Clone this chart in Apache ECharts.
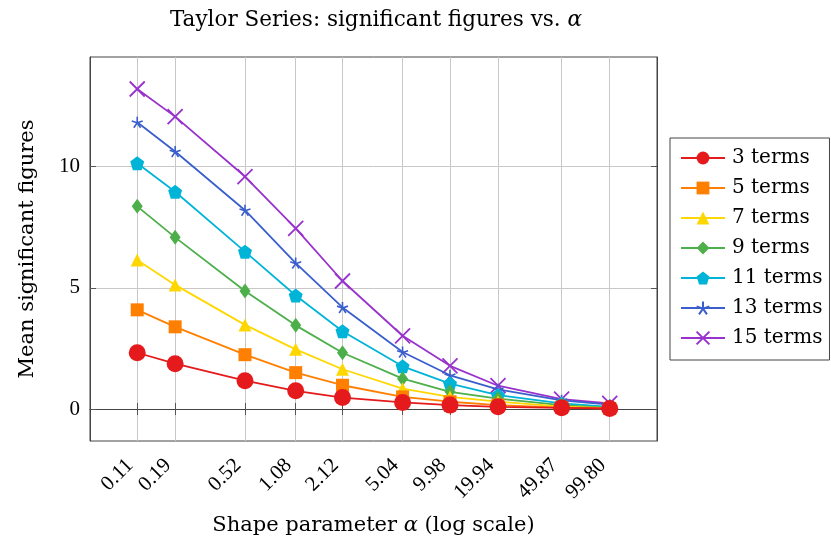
<!DOCTYPE html>
<html>
<head>
<meta charset="utf-8">
<script src="https://cdn.jsdelivr.net/npm/echarts@6/dist/echarts.min.js"></script>
<style>html,body{margin:0;padding:0;background:#fff}#c{width:831px;height:544px}</style>
</head>
<body>
<div id="c"></div>
<script>
const alphaValues = [0.11, 0.19, 0.52, 1.08, 2.12, 5.04, 9.98, 19.94, 49.87, 99.80];
const xTickLabels = ['0.11', '0.19', '0.52', '1.08', '2.12', '5.04', '9.98', '19.94', '49.87', '99.80'];
const yTicks = [0, 5, 10];
const seriesNames = ['3 terms', '5 terms', '7 terms', '9 terms', '11 terms', '13 terms', '15 terms'];
const terms3  = [2.32, 1.87, 1.17, 0.75, 0.47, 0.27, 0.16, 0.09, 0.05, 0.02];
const terms5  = [4.09, 3.39, 2.24, 1.50, 0.98, 0.50, 0.30, 0.16, 0.06, 0.02];
const terms7  = [6.15, 5.12, 3.47, 2.46, 1.64, 0.84, 0.50, 0.30, 0.10, 0.03];
const terms9  = [8.36, 7.08, 4.87, 3.45, 2.32, 1.25, 0.71, 0.43, 0.16, 0.05];
const terms11 = [10.14, 8.96, 6.49, 4.68, 3.21, 1.76, 1.05, 0.57, 0.23, 0.09];
const terms13 = [11.83, 10.62, 8.20, 6.02, 4.19, 2.35, 1.39, 0.81, 0.36, 0.18];
const terms15 = [13.20, 12.06, 9.59, 7.45, 5.28, 3.02, 1.78, 0.96, 0.41, 0.23];
const allSeries = [terms3, terms5, terms7, terms9, terms11, terms13, terms15];

const colors = ['#e41a1c', '#ff7f00', '#ffd700', '#4daf4a', '#00b4d8', '#3a5fcd', '#9932cc'];
const starPath = 'path://M5,5L5,0M5,5L0.245,3.455M5,5L2.061,9.045M5,5L7.939,9.045M5,5L9.755,3.455';
const crossPath = 'path://M0,0L10,10M10,0L0,10';
const symbols = ['circle', 'rect', 'triangle', 'diamond', 'path://M5,0L9.755,3.455L7.939,9.045L2.061,9.045L0.245,3.455Z', starPath, crossPath];
const sizes = [17, 13, 13, [11, 15], 14, 11, 15];

const FONT = '"DejaVu Serif", "Liberation Serif", serif';
const NUMFONT = '"Liberation Serif", "DejaVu Serif", serif';
const xMin = 0.0557, xMax = 197.2, yMin = -1.32, yMax = 14.52;

const series = allSeries.map((vals, i) => {
  const stroke = (i >= 5);
  return {
    name: seriesNames[i],
    type: 'line',
    xAxisIndex: 0, yAxisIndex: 0,
    data: vals.map((v, j) => [alphaValues[j], v]),
    symbol: symbols[i],
    symbolSize: sizes[i],
    lineStyle: { color: colors[i], width: 1.8 },
    itemStyle: stroke ? { color: 'rgba(0,0,0,0)', borderColor: colors[i], borderWidth: i === 6 ? 1.8 : 1.6 }
                      : { color: colors[i], borderWidth: 0 },
    color: colors[i],
    z: 2 + (6 - i),
    animation: false
  };
});

const chart = echarts.init(document.getElementById('c'), null, { renderer: 'canvas' });
const tickStyle = { show: true, inside: true, length: 6, lineStyle: { color: '#555', width: 1 } };
chart.setOption({
  animation: false,
  title: {
    text: '{n|Taylor Series: significant figures vs. }{a|α}',
    left: 371, top: 4, textAlign: 'center',
    textStyle: { fontWeight: 'normal', rich: {
      n: { fontFamily: FONT, fontSize: 21.5, fontWeight: 'normal', color: '#000' },
      a: { fontFamily: FONT, fontSize: 21.5, fontWeight: 'normal', fontStyle: 'italic', color: '#000' }
    } }
  },
  grid: { left: 90, right: 174, top: 57, bottom: 103, show: true, borderColor: '#444', borderWidth: 1, backgroundColor: 'transparent', containLabel: false },
  legend: {
    orient: 'vertical', left: 670, top: 138,
    itemWidth: 44, itemHeight: 16, itemGap: 10,
    padding: [10, 7, 12, 10],
    borderColor: '#444', borderWidth: 1,
    textStyle: { fontFamily: FONT, fontSize: 20, color: '#000', padding: [0, 0, 0, 2] },
    data: seriesNames
  },
  xAxis: [{
    type: 'log', min: xMin, max: xMax, logBase: 10,
    name: '{n|Shape parameter }{a|α}{n| (log scale)}',
    nameLocation: 'middle', nameGap: 74,
    nameTextStyle: { rich: {
      n: { fontFamily: FONT, fontSize: 21, color: '#000' },
      a: { fontFamily: FONT, fontSize: 21, fontStyle: 'italic', color: '#000' }
    } },
    axisLine: { show: true, lineStyle: { color: '#444' } },
    axisTick: Object.assign({ customValues: alphaValues }, tickStyle),
    splitLine: { show: true, lineStyle: { color: '#c8c8c8', width: 1 } },
    minorTick: { show: false }, minorSplitLine: { show: false },
    axisLabel: {
      customValues: alphaValues,
      rotate: 45, margin: 14,
      padding: [0, 10, 15, 0],
      fontFamily: NUMFONT, fontSize: 21, color: '#000',
      formatter: v => { const k = alphaValues.findIndex(a => Math.abs(a - v) < 1e-6 * Math.max(1, a)); return k >= 0 ? xTickLabels[k] : ''; }
    }
  }, {
    type: 'log', min: xMin, max: xMax, logBase: 10, position: 'top',
    axisLine: { show: true, lineStyle: { color: '#444' } },
    axisTick: Object.assign({ customValues: alphaValues }, tickStyle),
    axisLabel: { show: false }, splitLine: { show: false }
  }],
  yAxis: [{
    type: 'value', min: yMin, max: yMax,
    name: 'Mean significant figures', nameLocation: 'middle', nameGap: 52,
    nameTextStyle: { fontFamily: FONT, fontSize: 21, color: '#000' },
    axisLine: { show: true, lineStyle: { color: '#444' } },
    axisTick: Object.assign({ customValues: yTicks }, tickStyle),
    splitLine: { show: true, lineStyle: { color: '#c8c8c8', width: 1 } },
    axisLabel: { customValues: yTicks, fontFamily: NUMFONT, fontSize: 21, color: '#000', margin: 10 }
  }, {
    type: 'value', min: yMin, max: yMax, position: 'right',
    axisLine: { show: true, lineStyle: { color: '#444' } },
    axisTick: Object.assign({ customValues: yTicks }, tickStyle),
    axisLabel: { show: false }, splitLine: { show: false }
  }],
  series: series
});
</script>
</body>
</html>
